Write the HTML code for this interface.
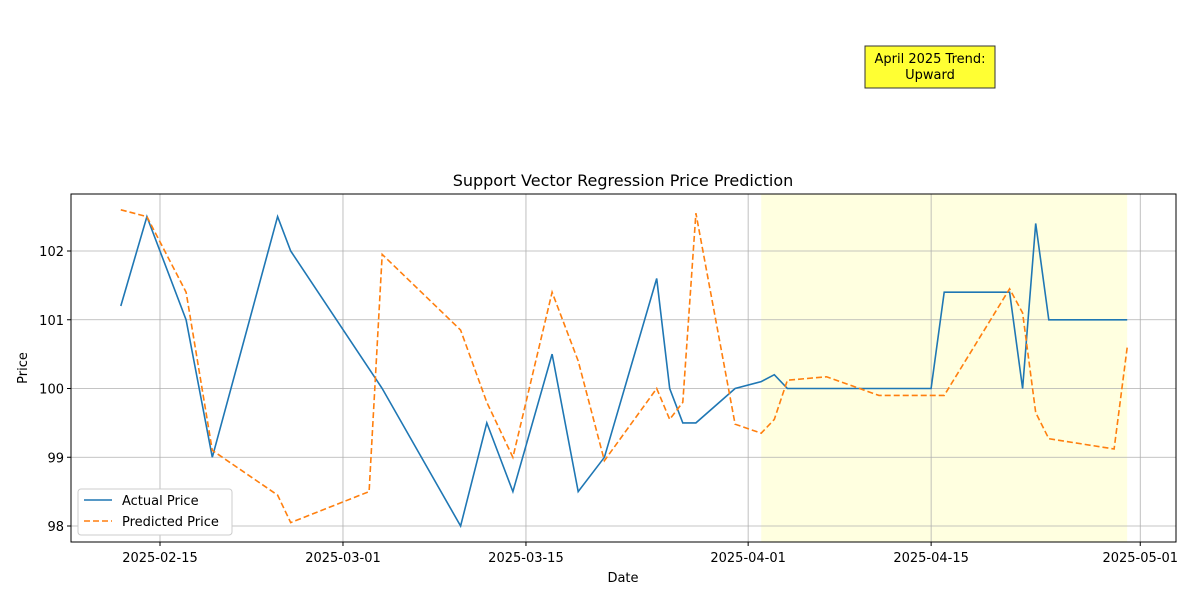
<!DOCTYPE html>
<html><head><meta charset="utf-8"><style>
body{margin:0;background:#fff;font-family:"Liberation Sans","DejaVu Sans",sans-serif;}
svg text{font-family:"DejaVu Sans","Liberation Sans",sans-serif;}
</style></head><body>
<svg id="chart" width="1200" height="600"></svg>
<script>
const actualDates=["2025-02-12","2025-02-14","2025-02-17","2025-02-19","2025-02-24","2025-02-25","2025-03-04","2025-03-10","2025-03-12","2025-03-14","2025-03-17","2025-03-19","2025-03-21","2025-03-25","2025-03-26","2025-03-27","2025-03-28","2025-03-31","2025-04-02","2025-04-03","2025-04-04","2025-04-07","2025-04-11","2025-04-15","2025-04-16","2025-04-21","2025-04-22","2025-04-23","2025-04-24","2025-04-29","2025-04-30"];
const actualValues=[101.2,102.5,101.0,99.0,102.5,102.0,100.0,98.0,99.5,98.5,100.5,98.5,99.0,101.6,100.0,99.5,99.5,100.0,100.1,100.2,100.0,100.0,100.0,100.0,101.4,101.4,100.0,102.4,101.0,101.0,101.0];
const predDates=["2025-02-12","2025-02-14","2025-02-17","2025-02-19","2025-02-24","2025-02-25","2025-03-03","2025-03-04","2025-03-10","2025-03-12","2025-03-14","2025-03-17","2025-03-19","2025-03-21","2025-03-25","2025-03-26","2025-03-27","2025-03-28","2025-03-31","2025-04-02","2025-04-03","2025-04-04","2025-04-07","2025-04-11","2025-04-15","2025-04-16","2025-04-21","2025-04-22","2025-04-23","2025-04-24","2025-04-29","2025-04-30"];
const predValues=[102.6,102.5,101.4,99.1,98.45,98.05,98.5,101.95,100.85,99.8,99.0,101.4,100.4,98.95,100.0,99.55,99.8,102.55,99.48,99.35,99.55,100.12,100.17,99.9,99.9,99.9,101.45,101.1,99.65,99.27,99.12,100.6];
const xTicks=["2025-02-15","2025-03-01","2025-03-15","2025-04-01","2025-04-15","2025-05-01"];
const yTicks=[98,99,100,101,102];
const shadeRange=["2025-04-02","2025-04-30"];

const NS="http://www.w3.org/2000/svg";
const svg=document.getElementById('chart');
const L=71,R=1176,T=194,B=542;
const d0=Date.parse("2025-02-15");
function X(d){return 160+(Date.parse(d)-d0)/86400000*13.07;}
function Y(v){return 388.5-(v-100)*68.75;}
function el(t,a,p){const e=document.createElementNS(NS,t);for(const k in a)e.setAttribute(k,a[k]);(p||svg).appendChild(e);return e;}

const sh=el('rect',{x:X(shadeRange[0]),y:T,width:X(shadeRange[1])-X(shadeRange[0]),height:B-T,fill:'#ffffe0'});



xTicks.forEach(t=>{const x=X(t);
 const g=el('line',{x1:x,x2:x,y1:T,y2:B,stroke:'#b0b0b0','stroke-width':0.8});
 
 el('line',{x1:x,x2:x,y1:B,y2:B+4,stroke:'#000'});
 const tx=el('text',{x:x,y:B+20,'text-anchor':'middle','font-size':13});tx.textContent=t;
 
});
yTicks.forEach(v=>{const y=Y(v);
 const g=el('line',{x1:L,x2:R,y1:y,y2:y,stroke:'#b0b0b0','stroke-width':0.8});
 
 el('line',{x1:L-4,x2:L,y1:y,y2:y,stroke:'#000'});
 const tx=el('text',{x:L-7,y:y+5,'text-anchor':'end','font-size':13});tx.textContent=v;
 
});

function path(ds,vs,attrs,name){
 const d=ds.map((t,i)=>(i?'L':'M')+X(t).toFixed(1)+','+Y(vs[i]).toFixed(1)).join('');
 const p=el('path',Object.assign({d:d,fill:'none','stroke-width':1.6},attrs));
 
}
path(actualDates,actualValues,{stroke:'#1f77b4'},'actual-price-line');
path(predDates,predValues,{stroke:'#ff7f0e','stroke-dasharray':'6,3'},'predicted-price-line');

el('rect',{x:L,y:T,width:R-L,height:B-T,fill:'none',stroke:'#000','stroke-width':1});
</script>
<svg width="1200" height="600" style="position:absolute;left:0;top:0">
<text x="623" y="186" text-anchor="middle" font-size="16">Support Vector Regression Price Prediction</text>
<text x="623" y="582" text-anchor="middle" font-size="13">Date</text>
<text x="27" y="368" text-anchor="middle" font-size="13" transform="rotate(-90 27 368)">Price</text>
<g>
<rect x="78" y="489" width="154" height="46" fill="#fff" stroke="#ccc" rx="3"/>
<line x1="84" x2="112" y1="500" y2="500" stroke="#1f77b4" stroke-width="1.6"/>
<text x="122" y="505" font-size="13">Actual Price</text>
<line x1="84" x2="112" y1="521" y2="521" stroke="#ff7f0e" stroke-width="1.6" stroke-dasharray="6,3"/>
<text x="122" y="526" font-size="13">Predicted Price</text>
</g>
<g>
<rect x="865" y="46" width="130" height="42" fill="#ffff33" stroke="#333"/>
<text x="930" y="63" text-anchor="middle" font-size="13">April 2025 Trend:</text>
<text x="930" y="79" text-anchor="middle" font-size="13">Upward</text>
</g>
</svg>
<style>body{position:relative}#chart{position:absolute;left:0;top:0}</style>
</body></html>
